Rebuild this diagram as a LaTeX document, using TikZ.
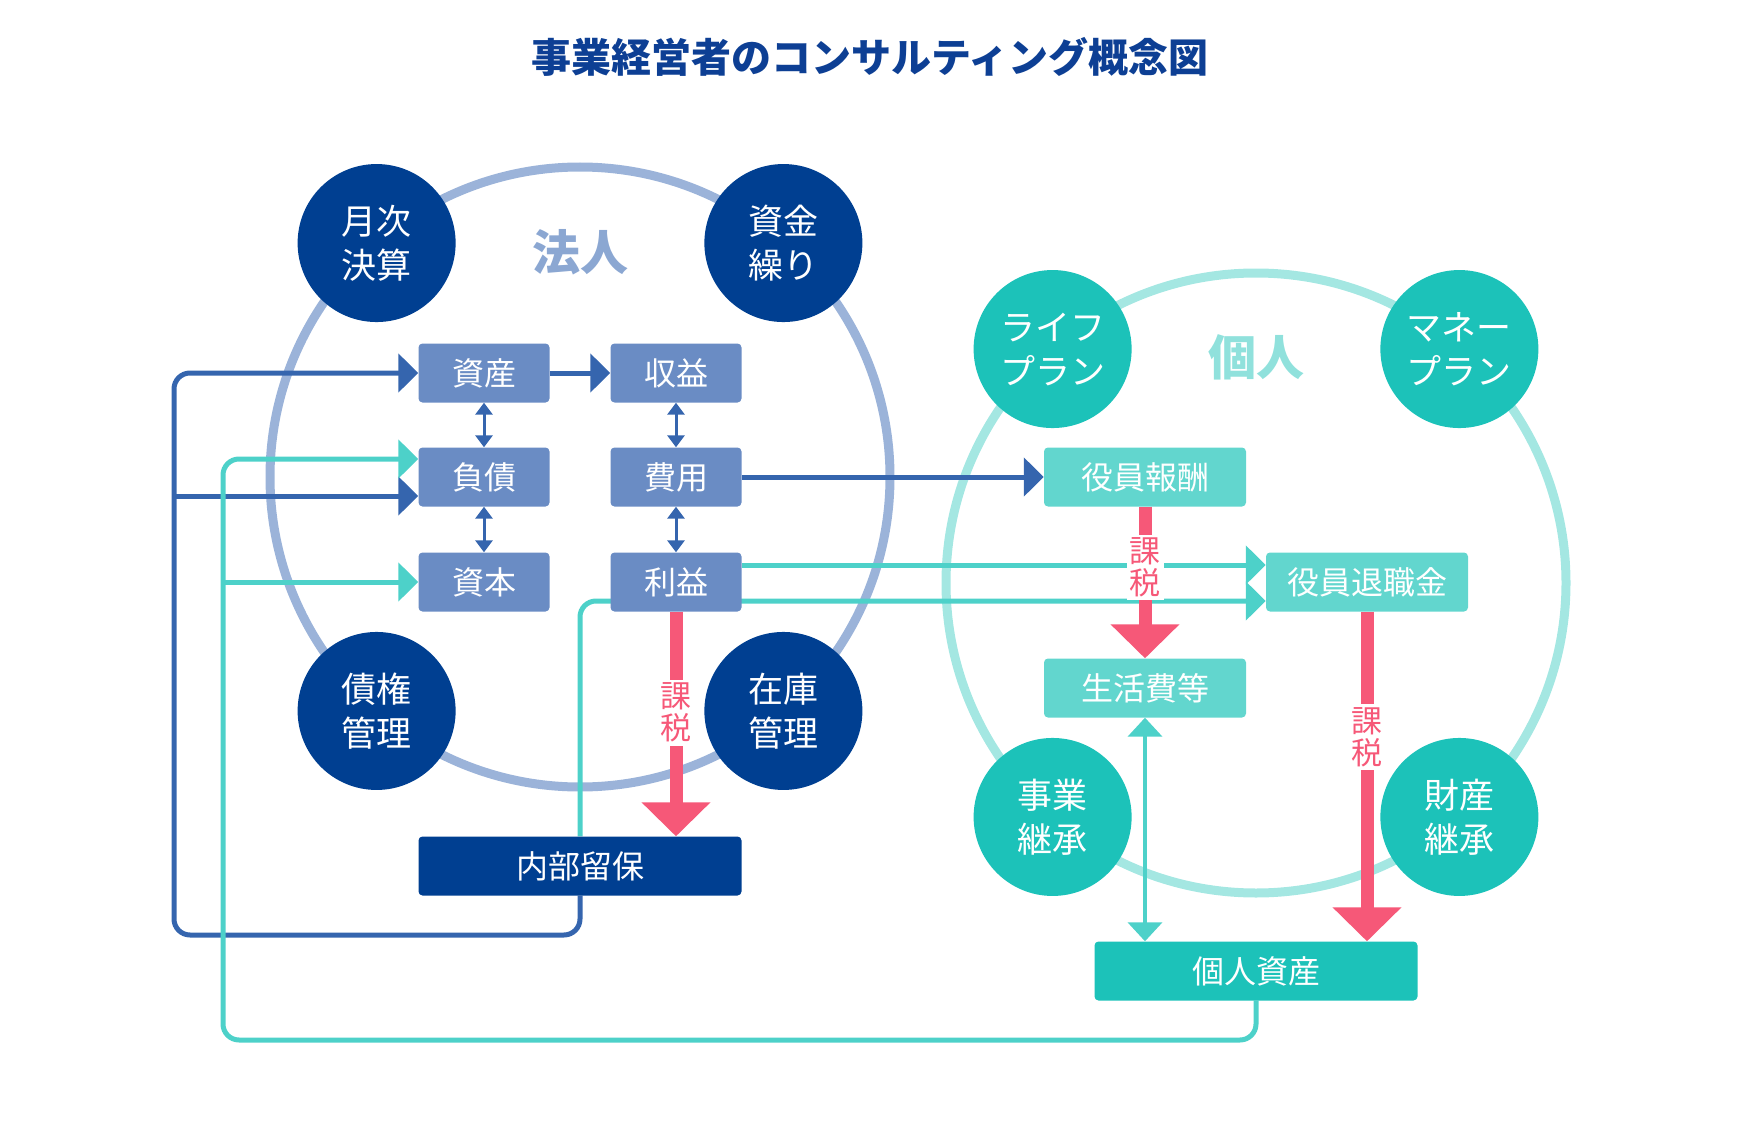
\documentclass[tikz,border=0pt]{standalone}
\usepackage{fontspec}
\setmainfont{Noto Sans CJK JP}
\usepackage{tikz}
\usetikzlibrary{positioning, arrows.meta, backgrounds}
\definecolor{corpnavy}{HTML}{003F91}
\definecolor{corpbox}{HTML}{6A8CC4}
\definecolor{corpring}{HTML}{9BB3D9}
\definecolor{corpline}{HTML}{3565AE}
\definecolor{privdark}{HTML}{1CC2B9}
\definecolor{privbox}{HTML}{62D6CE}
\definecolor{privline}{HTML}{4DD1C9}
\definecolor{privring}{HTML}{A4E7E2}
\definecolor{taxpink}{HTML}{F65878}
\definecolor{titleblue}{HTML}{0D3F94}
\tikzset{corp/.style = {circle, fill=corpnavy, text=white, minimum size=158pt, inner sep=0pt, align=center, font=\fontsize{35}{44}\selectfont}}
\tikzset{priv/.style = {corp, fill=privdark}}
\tikzset{acct/.style = {rectangle, rounded corners=4pt, fill=corpbox, text=white, minimum width=131pt, minimum height=59pt, inner sep=0pt, font=\fontsize{32}{36}\selectfont}}
\tikzset{pbox/.style = {acct, fill=privbox, minimum width=202pt}}
\tikzset{wide/.style = {minimum width=323pt}}
\tikzset{ring/.style = {circle, draw, line width=9pt, minimum size=620pt, inner sep=0pt, outer sep=0pt}}
\tikzset{flow/.style = {line width=5pt, rounded corners=16pt, -{Triangle[width=38pt, length=20pt]}}}
\tikzset{pair/.style = {line width=3pt, draw=corpline, {Triangle[width=17pt, length=12pt]}-{Triangle[width=17pt, length=12pt]}}}
\tikzset{tpair/.style = {line width=4pt, draw=privline, {Triangle[width=34pt, length=19pt]}-{Triangle[width=34pt, length=19pt]}}}
\tikzset{tax/.style = {line width=13pt, draw=taxpink, -{Triangle[width=67pt, length=34pt]}}}
\tikzset{taxlabel/.style = {fill=white, text=taxpink, inner sep=3pt, align=center, font=\fontsize{31}{32}\selectfont}}

\begin{document}
\begin{tikzpicture}[x=1pt, y=-1pt, on grid]
  \useasboundingbox (0,0) rectangle (1741,1121);
  \node[text=titleblue, font=\fontsize{40}{48}\selectfont\bfseries] (title) at (870,57) {事業経営者のコンサルティング概念図};

  % two rings
  \begin{scope}[on background layer]
    \node[ring, draw=corpring] (hojin) at (580,477) {};
    \node[ring, draw=privring] (kojinring) at (1256,583) {};
  \end{scope}
  \node[text=corpring!90!corpnavy, font=\fontsize{48}{52}\selectfont\bfseries] (hojinlabel) at (580,252) {法人};
  \node[text=privring!85!privdark, font=\fontsize{48}{52}\selectfont\bfseries] (kojinlabel) at (1256,357) {個人};

  \node[corp] (getsuji) at (hojin.131) {月次\\決算};
  \node[corp] (shikin) at (hojin.49) {資金\\繰り};
  \node[corp] (saiken) at (hojin.229) {債権\\管理};
  \node[corp] (zaiko) at (hojin.311) {在庫\\管理};
  \node[priv] (life) at (kojinring.131) {ライフ\\プラン};
  \node[priv] (money) at (kojinring.49) {マネー\\プラン};
  \node[priv] (jigyo) at (kojinring.229) {事業\\継承};
  \node[priv] (zaisan) at (kojinring.311) {財産\\継承};

  % corporate accounts
  \node[acct] (shisan) at (484,373) {資産};
  \node[acct, right=192pt of shisan] (shueki) {収益};
  \node[acct, below=104pt of shisan] (fusai) {負債};
  \node[acct, right=192pt of fusai] (hiyo) {費用};
  \node[acct, below=105pt of fusai] (shihon) {資本};
  \node[acct, right=192pt of shihon] (rieki) {利益};
  \node[acct, wide, fill=corpnavy] (naibu) at (580,866) {内部留保};

  % private side
  \node[pbox] (houshu) at (1145,477) {役員報酬};
  \node[pbox] (taishoku) at (1367,582) {役員退職金};
  \node[pbox, below=211pt of houshu] (seikatsu) {生活費等};
  \node[pbox, wide, fill=privdark] (kojin) at (1256,971) {個人資産};

  \coordinate (bl) at (174,935);
  \coordinate (tl) at (223,1040);
  \coordinate (fusaiB) at ([yshift=-19pt]fusai.west);
  \coordinate (fusaiT) at ([yshift=18pt]fusai.west);
  \coordinate (taiT) at ([yshift=17pt]taishoku.west);
  \coordinate (taiB) at ([yshift=-19pt]taishoku.west);

  \begin{scope}[on background layer]
    \draw[flow, draw=corpline] (naibu.south) |- (bl) |- (shisan.west);
    \draw[flow, draw=corpline] (bl |- fusaiB) -- (fusaiB);
    \draw[flow, draw=corpline] (shisan) -- (shueki);
    \draw[flow, draw=corpline] (hiyo) -- (houshu);
    \draw[flow, draw=privline] (kojin.south) |- (tl) |- (fusaiT);
    \draw[flow, draw=privline] (tl |- shihon.west) -- (shihon.west);
    \draw[flow, draw=privline] (rieki.east |- taiT) -- (taiT);
    \draw[flow, draw=privline] (naibu.north) |- (taiB);
  \end{scope}

  \draw[pair] (shisan) -- (fusai);
  \draw[pair] (fusai) -- (shihon);
  \draw[pair] (shueki) -- (hiyo);
  \draw[pair] (hiyo) -- (rieki);
  \draw[tpair] (seikatsu) -- (seikatsu.south |- kojin.north);

  % taxes
  \draw[tax] (rieki) -- node[taxlabel, pos=0.45] (tax1) {課\\税} (rieki.south |- naibu.north);
  \draw[tax] (houshu) -- node[taxlabel, pos=0.4] (tax2) {課\\税} (seikatsu);
  \draw[tax] (taishoku) -- node[taxlabel, pos=0.38] (tax3) {課\\税} (taishoku.south |- kojin.north);
\end{tikzpicture}
\end{document}
